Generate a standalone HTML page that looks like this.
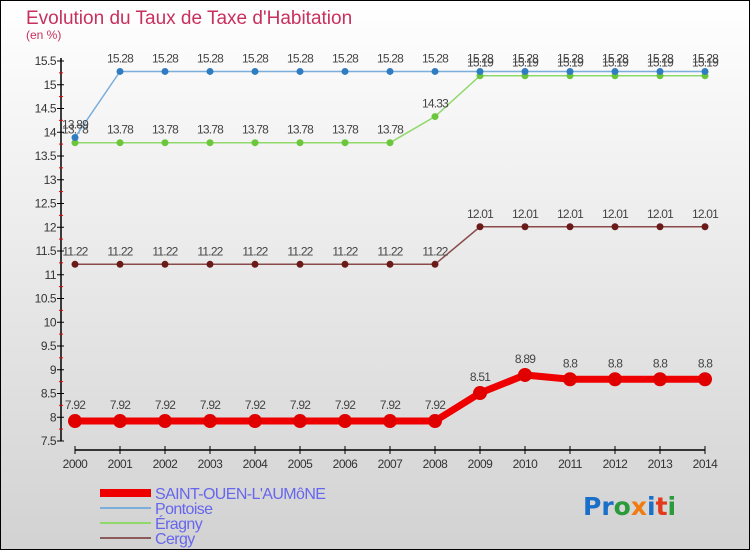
<!DOCTYPE html>
<html><head><meta charset="utf-8"><style>
html,body{margin:0;padding:0}
body{width:750px;height:550px;overflow:hidden;font-family:"Liberation Sans",sans-serif}
</style></head><body>
<svg id="chart" width="750" height="550" xmlns="http://www.w3.org/2000/svg">
<defs><linearGradient id="bg" x1="0" y1="0" x2="0" y2="1"><stop offset="0" stop-color="#ffffff"/><stop offset="1" stop-color="#d2d2d2"/></linearGradient></defs>
<rect x="0.5" y="0.5" width="749" height="549" fill="url(#bg)" stroke="#000"/>
<text x="26" y="24" font-size="19" fill="#c8305e">Evolution du Taux de Taxe d'Habitation</text>
<text x="26" y="39" font-size="12" fill="#c8305e">(en %)</text>
<g id="plot"></g>
<g id="legend"></g>
<text x="583" y="515" font-size="25" font-weight="bold" font-family="'DejaVu Sans',sans-serif"><tspan fill="#1a6fc9">Pr</tspan><tspan fill="#2a9a3a">o</tspan><tspan fill="#f07b10">x</tspan><tspan fill="#1a6fc9">i</tspan><tspan fill="#e23a1a">t</tspan><tspan fill="#2a9a3a">i</tspan></text>
</svg>
<script>
const years=[2000,2001,2002,2003,2004,2005,2006,2007,2008,2009,2010,2011,2012,2013,2014];
const saintOuen=[7.92,7.92,7.92,7.92,7.92,7.92,7.92,7.92,7.92,8.51,8.89,8.8,8.8,8.8,8.8];
const pontoise=[13.89,15.28,15.28,15.28,15.28,15.28,15.28,15.28,15.28,15.28,15.28,15.28,15.28,15.28,15.28];
const eragny=[13.78,13.78,13.78,13.78,13.78,13.78,13.78,13.78,14.33,15.19,15.19,15.19,15.19,15.19,15.19];
const cergy=[11.22,11.22,11.22,11.22,11.22,11.22,11.22,11.22,11.22,12.01,12.01,12.01,12.01,12.01,12.01];
const yTicks=[7.5,8,8.5,9,9.5,10,10.5,11,11.5,12,12.5,13,13.5,14,14.5,15,15.5];
const NS="http://www.w3.org/2000/svg";
const xs=i=>75+i*45;
const ys=v=>441-(v-7.5)*47.5;
const plot=document.getElementById('plot');
function mk(tag,attrs,parent,text){const e=document.createElementNS(NS,tag);for(const k in attrs)e.setAttribute(k,attrs[k]);if(text!==undefined)e.textContent=text;(parent||plot).appendChild(e);return e;}
function fmt(v){return String(v);}
// axes
let ax=mk('line',{x1:61,y1:58,x2:61,y2:441,stroke:'#000','stroke-width':1.5});


yTicks.forEach((t,i)=>{
  const y=ys(t);
  mk('line',{x1:57,y1:y,x2:64,y2:y,stroke:'#000'});
  const lb=mk('text',{x:56,y:y+4,'font-size':12,'text-anchor':'end',fill:'#333','letter-spacing':'-0.5'},plot,fmt(t));
  
  
  if(i<yTicks.length-1) mk('line',{x1:59,y1:y-11.9,x2:63,y2:y-11.9,stroke:'#e00'});
});
let xa=mk('line',{x1:75,y1:450,x2:705,y2:450,stroke:'#000','stroke-width':1.5});


years.forEach((yr,i)=>{
  mk('line',{x1:xs(i),y1:446,x2:xs(i),y2:454,stroke:'#000'});
  const lb=mk('text',{x:xs(i),y:468,'font-size':12,'text-anchor':'middle',fill:'#333','letter-spacing':'-0.5'},plot,String(yr));
  
  
});
function series(vals,color,dot,w,r,name,labOff){
  const g=mk('g',{});
  
  
  mk('polyline',{points:vals.map((v,i)=>xs(i)+','+ys(v)).join(' '),fill:'none',stroke:color,'stroke-width':w},g);
  vals.forEach((v,i)=>{
    const c=mk('circle',{cx:xs(i),cy:ys(v),r:r,fill:dot},g);
    
    
    const t=mk('text',{x:xs(i),y:ys(v)-labOff,'font-size':12,'text-anchor':'middle',fill:'#444','letter-spacing':'-0.8'},g,fmt(v));
    
    
  });
}
series(cergy,'#8b4a4a','#6b1a1a',1.5,3.5,'cergy',9);
series(eragny,'#8fd86a','#6cc63c',1.5,3.5,'eragny',9);
series(pontoise,'#7aaedb','#2f7cc0',1.5,3.5,'pontoise',9);
series(saintOuen,'#ee0000','#e00000',7,7,'saint-ouen',12);
const legend=document.getElementById('legend');
const legNames=['SAINT-OUEN-L\'AUMôNE','Pontoise','Éragny','Cergy'];
const legColors=['#ee0000','#7aaedb','#8fd86a','#8b5a5a'];
const legW=[8,2,2,2];
legNames.forEach((n,i)=>{
  const y=493+i*15;
  const g=mk('g',{},legend);
  
  
  mk('line',{x1:100,y1:y,x2:151,y2:y,stroke:legColors[i],'stroke-width':legW[i]},g);
  mk('text',{x:155,y:y+6,'font-size':16,fill:'#6666ee','letter-spacing':'-0.6'},g,n);
});
</script>
</body></html>
